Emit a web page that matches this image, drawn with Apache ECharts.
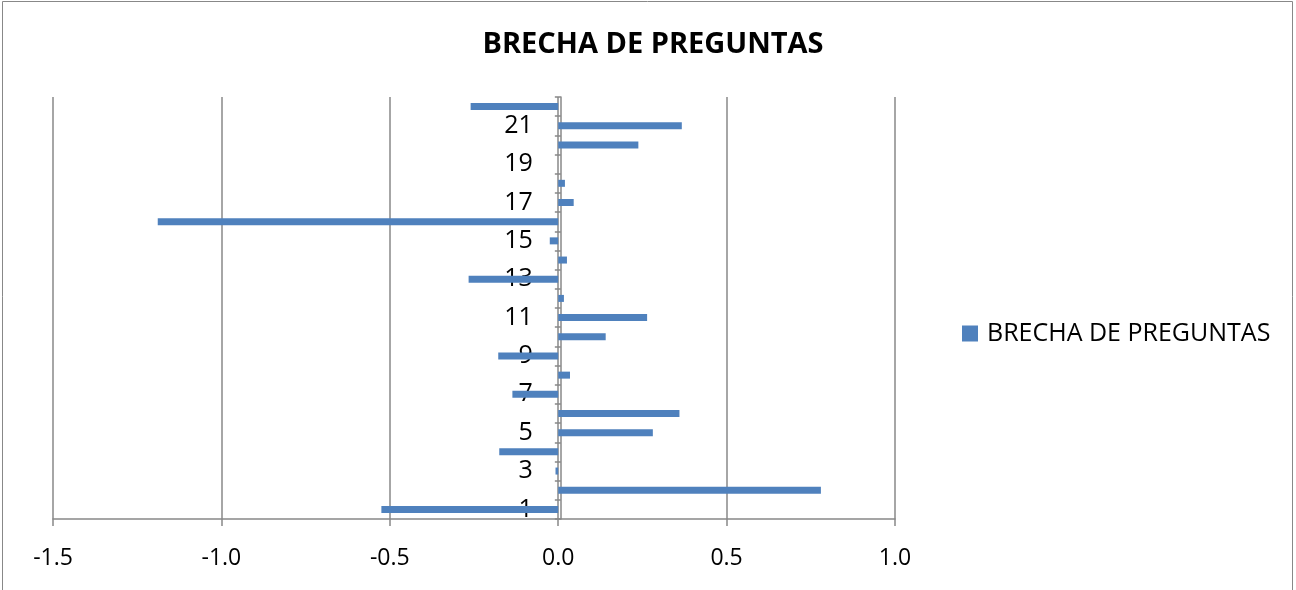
<!DOCTYPE html>
<html><head><meta charset="utf-8">
<script src="https://cdn.jsdelivr.net/npm/echarts@6/dist/echarts.min.js"></script>
<style>html,body{margin:0;padding:0;background:#fff}#c{width:1296px;height:590px}</style>
</head><body><div id="c"></div>
<script>
const categories = ['1','2','3','4','5','6','7','8','9','10','11','12','13','14','15','16','17','18','19','20','21','22'];
const values = [-0.525, 0.78, -0.008, -0.175, 0.281, 0.36, -0.136, 0.035, -0.178, 0.141, 0.264, 0.017, -0.266, 0.026, -0.025, -1.189, 0.046, 0.02, 0, 0.238, 0.367, -0.26];
const xTicks = [-1.5, -1.0, -0.5, 0.0, 0.5, 1.0];
const seriesName = 'BRECHA DE PREGUNTAS';
const titleText = 'BRECHA DE PREGUNTAS';

const chart = echarts.init(document.getElementById('c'));
const font = 'Open Sans';
const gridLeft = 53;
function build(yOffset) {
  return {
    animation: false,
    backgroundColor: '#fff',
    title: { text: titleText, left: 648, top: 25, textAlign: 'center',
      textStyle: { fontFamily: font, fontSize: 29, fontWeight: 'bold', color: '#000' } },
    legend: { data: [seriesName], left: 957, top: 316, orient: 'vertical',
      itemWidth: 16, itemHeight: 16, itemGap: 8, icon: 'rect',
      textStyle: { fontFamily: font, fontSize: 25, color: '#000', padding: [0,0,0,4] } },
    grid: { left: gridLeft, right: 401, top: 97, bottom: 71, containLabel: false },
    xAxis: { type: 'value', min: xTicks[0], max: xTicks[xTicks.length-1], interval: 0.5,
      axisLine: { show: true, lineStyle: { color: '#888', width: 1.5 } },
      axisTick: { show: true, length: 7, lineStyle: { color: '#888', width: 1.5 } },
      splitLine: { show: true, lineStyle: { color: '#888', width: 1.5 } },
      axisLabel: { fontFamily: font, fontSize: 23, color: '#000', margin: 28,
        formatter: v => v.toFixed(1) } },
    yAxis: { type: 'category', data: categories, offset: yOffset,
      axisLine: { show: true, onZero: false, lineStyle: { color: '#888', width: 1.5 } },
      axisTick: { show: true, interval: 0, length: 6, lineStyle: { color: '#888', width: 1.5 } },
      splitLine: { show: false },
      axisLabel: { interval: 1, fontFamily: font, fontSize: 25, color: '#000', margin: 28 } },
    series: [{ name: seriesName, type: 'bar', data: values, barWidth: 7,
      itemStyle: { color: '#4F81BD' } }],
    graphic: [{ type: 'rect', shape: { x: 2.5, y: 1.5, width: 1290, height: 600 },
      style: { fill: 'none', stroke: '#888', lineWidth: 1 }, silent: true }]
  };
}
chart.setOption(build(0));
const zeroX = chart.convertToPixel({ xAxisIndex: 0 }, 0);
chart.setOption(build(-(zeroX - gridLeft)));
</script></body></html>
